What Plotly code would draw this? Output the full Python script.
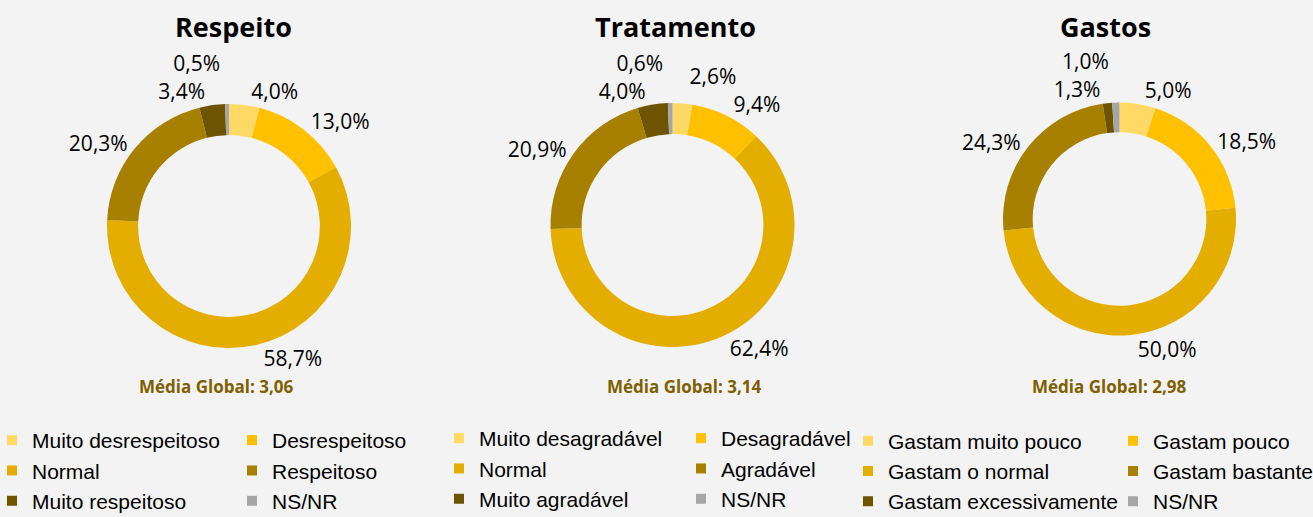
import plotly.graph_objects as go

# ---------------- data ----------------
titles = ["Respeito", "Tratamento", "Gastos"]
medias = ["3,06", "3,14", "2,98"]

respeito_labels = ["Muito desrespeitoso", "Desrespeitoso", "Normal", "Respeitoso",
                   "Muito respeitoso", "NS/NR"]
respeito_values = [4.0, 13.0, 58.7, 20.3, 3.4, 0.5]

tratamento_labels = ["Muito desagradável", "Desagradável", "Normal", "Agradável",
                     "Muito agradável", "NS/NR"]
tratamento_values = [2.6, 9.4, 62.4, 20.9, 4.0, 0.6]

gastos_labels = ["Gastam muito pouco", "Gastam pouco", "Gastam o normal", "Gastam bastante",
                 "Gastam excessivamente", "NS/NR"]
gastos_values = [5.0, 18.5, 50.0, 24.3, 1.3, 1.0]

# ---------------- style ----------------
colors = ["#FFD966", "#FFC000", "#E3AE00", "#A88000", "#6E5400", "#A6A6A6"]
BG = "#F3F3F3"
W, H = 1313, 517

pie_domains = [
    dict(x=[107 / W, 351 / W], y=[(H - 348) / H, (H - 104) / H]),
    dict(x=[550.5 / W, 794.5 / W], y=[(H - 347) / H, (H - 103) / H]),
    dict(x=[1003 / W, 1236 / W], y=[(H - 336) / H, (H - 102) / H]),
]
title_x = [233 / W, 675 / W, 1105 / W]
media_x = [216 / W, 684 / W, 1109 / W]
legend_names = ["legend", "legend2", "legend3"]
legend_pos = [(-8 / W, (H - 420) / H, 195), (439 / W, (H - 418) / H, 197),
              (848 / W, (H - 420.5) / H, 220)]


def fmt(v):
    return f"{v:.1f}".replace(".", ",") + "%"


fig = go.Figure()
series = [(respeito_labels, respeito_values), (tratamento_labels, tratamento_values),
          (gastos_labels, gastos_values)]

for i, (labels, values) in enumerate(series):
    fig.add_trace(go.Pie(
        labels=labels, values=values, text=[fmt(v) for v in values],
        texttemplate="<span style='color:#000000'>%{text}</span>",
        textposition="outside", hole=0.745,
        sort=False, direction="clockwise", rotation=0,
        marker=dict(colors=colors, line=dict(width=0)),
        textfont=dict(family="Open Sans", size=21, color="#000000"),
        # leader lines take this colour; the label text itself is coloured by the span
        outsidetextfont=dict(family="Open Sans", size=21, color=BG),
        domain=pie_domains[i], showlegend=False, hoverinfo="label+text",
    ))
    # legend entries (two columns via legend groups)
    for j, lab in enumerate(labels):
        fig.add_trace(go.Scatter(
            x=[None], y=[None], mode="markers", name=lab,
            marker=dict(symbol="square", size=10, color=colors[j]),
            legend=legend_names[i], legendgroup=f"{i}-{j % 2}",
            showlegend=True, hoverinfo="skip",
        ))

annotations = []
for i in range(3):
    annotations.append(dict(
        text=titles[i], x=title_x[i], y=(H - 26) / H, xref="paper", yref="paper",
        showarrow=False, xanchor="center", yanchor="middle",
        font=dict(family="Open Sans", size=27, color="#000000", weight=700)))
    annotations.append(dict(
        text=f"Média Global: {medias[i]}", x=media_x[i], y=(H - 386) / H,
        xref="paper", yref="paper", showarrow=False, xanchor="center", yanchor="middle",
        font=dict(family="Open Sans", size=17, color="#7F6000", weight=700)))

layout_legends = {}
for name, (lx, ly, ew) in zip(legend_names, legend_pos):
    layout_legends[name] = dict(
        x=lx, y=ly, xanchor="left", yanchor="top", orientation="h",
        traceorder="grouped", entrywidth=ew, entrywidthmode="pixels",
        tracegroupgap=0, bgcolor="rgba(0,0,0,0)",
        font=dict(family="Liberation Sans", size=21, color="#000000"),
    )

fig.update_layout(
    width=W, height=H, paper_bgcolor=BG, plot_bgcolor=BG,
    margin=dict(l=0, r=0, t=0, b=0, autoexpand=False),
    xaxis=dict(visible=False), yaxis=dict(visible=False),
    annotations=annotations,
    **layout_legends,
)

fig.write_html(
    "out.html",
    config={"displayModeBar": False},
    post_script="document.body.style.margin='0';document.body.style.background='#F3F3F3';",
)
